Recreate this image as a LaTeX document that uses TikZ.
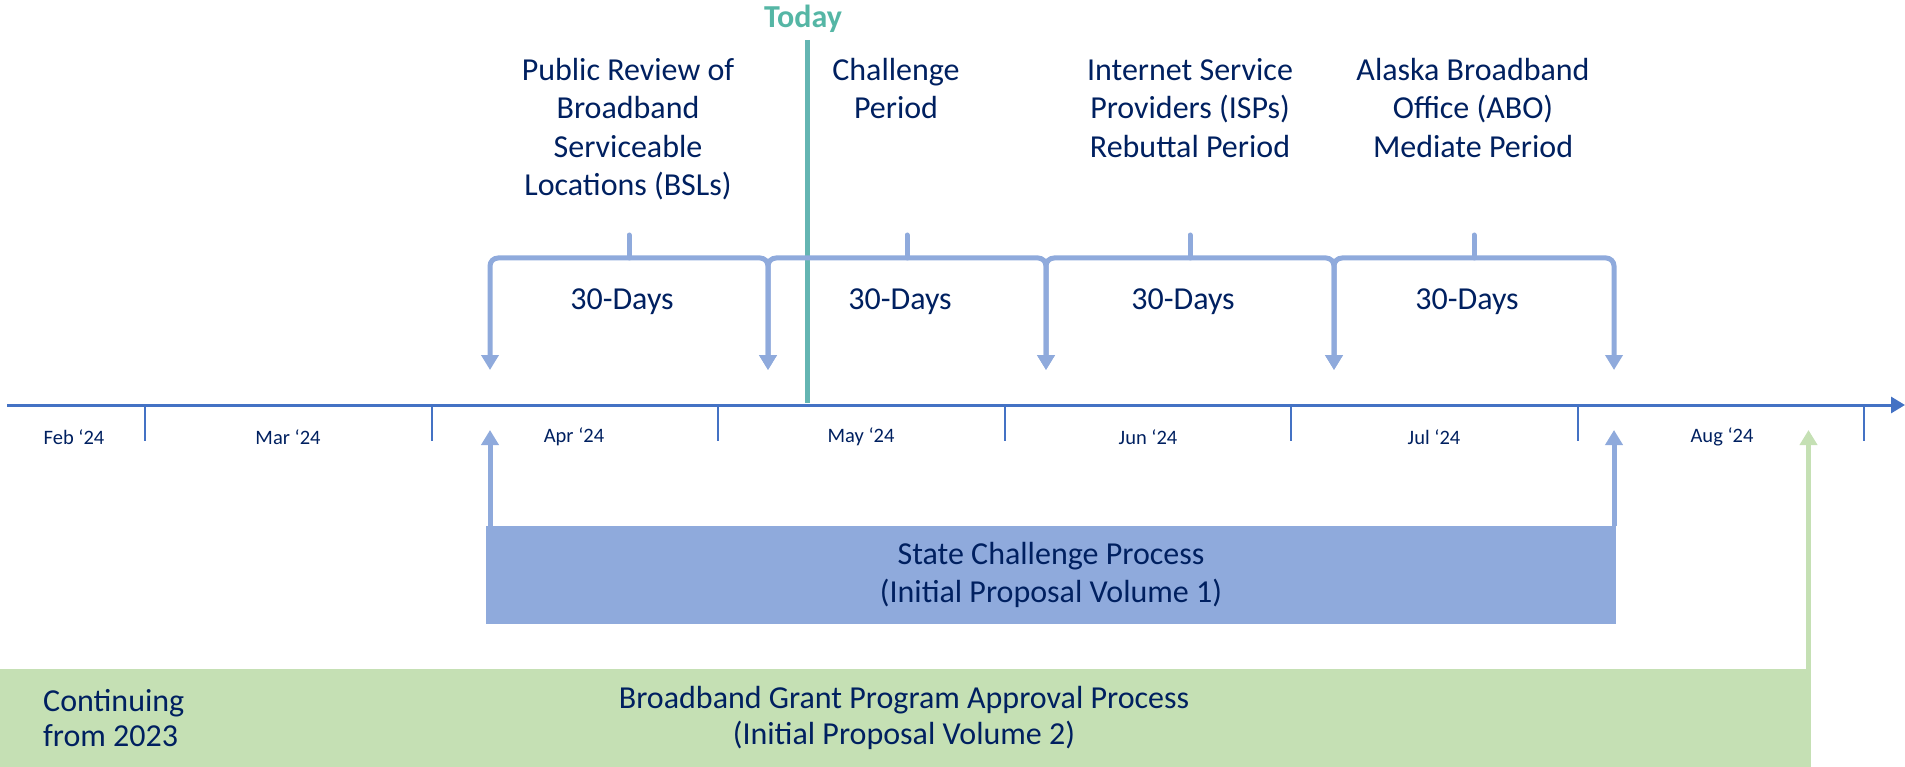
\documentclass[tikz,border=0pt]{standalone}
\usepackage{fontspec}
\setmainfont{Carlito}
\usetikzlibrary{arrows.meta,positioning}

\definecolor{navy}{HTML}{002060}
\definecolor{axisblue}{HTML}{4472C4}
\definecolor{periodblue}{HTML}{8FAADC}
\definecolor{grantgreen}{HTML}{C5E0B4}
\definecolor{todaytext}{HTML}{55B6A5}
\definecolor{todayline}{HTML}{64B5B2}

\begin{document}
\begin{tikzpicture}[x=1pt, y=-1pt,
  every node/.style = {text=navy, inner sep=0pt, align=center,
    font=\fontsize{32}{38.4}\selectfont},
  month/.style = {font=\fontsize{20.5}{24}\selectfont},
  period/.style = {draw=periodblue, line width=5pt, rounded corners=8pt,
    {Triangle[width=17pt,length=15pt]}-{Triangle[width=17pt,length=15pt]}},
  bump/.style = {draw=periodblue, line width=5pt, line cap=round},
  uparrow/.style = {line width=5pt, -{Triangle[width=17pt,length=15pt]}}
  ]
  \useasboundingbox (0,0) rectangle (1905,767);

  % time axis
  \draw[axisblue, line width=3pt, -{Triangle[width=16pt,length=14pt]}]
    (7,405) -- (1905,405);
  \foreach \x in {145,431.5,718,1004.5,1291,1577.5,1864}
    \draw[axisblue, line width=2pt] (\x,405) -- (\x,441);
  \foreach \m/\x in {Feb/74,Mar/288,Apr/574,May/861,Jun/1148,Jul/1434,Aug/1722}
    \node[month] (m\m) at (\x,437) {\m~‘24};

  % today marker
  \draw[todayline, line width=5pt] (807,40) -- (807,403);
  \node[text=todaytext, font=\fontsize{32}{38.4}\selectfont\bfseries]
    (today) at (803,19) {Today};

  % the four 30-day periods
  \foreach \i/\x in {0/490,1/768,2/1046,3/1334,4/1614} {
    \coordinate (b\i) at (\x,258);
    \coordinate (t\i) at (\x,370);
  }
  \foreach \i/\j/\xm in {0/1/629,1/2/907,2/3/1190,3/4/1474} {
    \draw[period] (t\i) -- (b\i) -- (b\j) -- (t\j);
    \coordinate (c\i) at (\xm,258);
    \coordinate (k\i) at (\xm,235);
    \draw[bump] (c\i) -- (k\i);
    \node (d\i) at (\xm-7,302) {30-Days};
  }

  % period titles
  \node[anchor=north] (review) at (628,58)
    {Public Review of\\Broadband\\Serviceable\\Locations (BSLs)};
  \node[anchor=north] (challenge) at (896,58) {Challenge\\Period};
  \node[anchor=north] (rebuttal) at (1190,58)
    {Internet Service\\Providers (ISPs)\\Rebuttal Period};
  \node[anchor=north] (mediate) at (1473,58)
    {Alaska Broadband\\Office (ABO)\\Mediate Period};

  % state challenge process
  \node[fill=periodblue, minimum width=1130pt, minimum height=98pt]
    (state) at (1051,575) {State Challenge Process\\(Initial Proposal Volume 1)};
  \coordinate (sL) at (490,430);
  \coordinate (sR) at (1614,430);
  \draw[uparrow, periodblue] (state.north west -| sL) -- (sL);
  \draw[uparrow, periodblue] (state.north east -| sR) -- (sR);

  % grant program approval
  \node[fill=grantgreen, minimum width=1811pt, minimum height=98pt,
    anchor=north west] (grant) at (0,669) {};
  \coordinate (gA) at (1808.5,430);
  \draw[uparrow, grantgreen] (grant.north east -| gA) -- (gA);
  \node[anchor=west, align=left, font=\fontsize{32}{35.5}\selectfont]
    (cont) at (43,718) {Continuing\\from 2023};
  \node[font=\fontsize{32}{35.5}\selectfont] (approval) at (904,718)
    {Broadband Grant Program Approval Process\\(Initial Proposal Volume 2)};
\end{tikzpicture}
\end{document}
